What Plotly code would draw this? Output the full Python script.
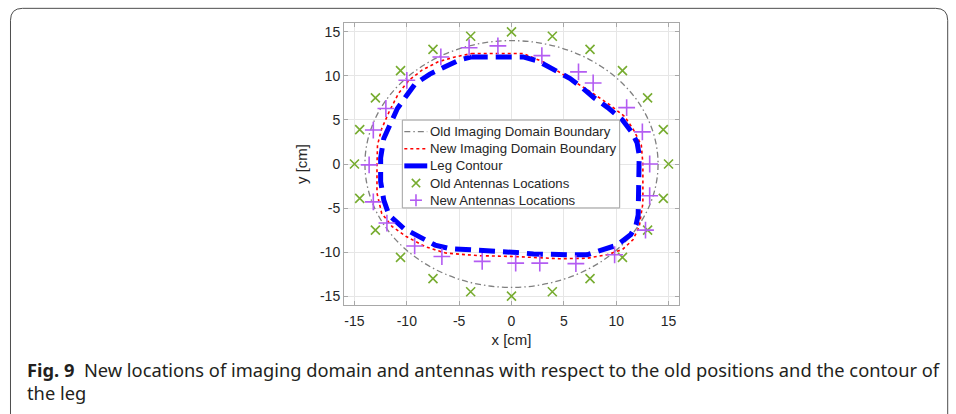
import plotly.graph_objects as go

# ---------------- data ----------------
old_boundary_radius = 14.0

new_boundary_x = [-3.8, 1.1, 3.0, 5.6, 7.8, 9.4, 10.8, 11.6, 12.4, 12.55, 12.55, 12.2, 11.6, 10.6, 9.1, 7.2,
                  4.6, 0.3, -3.2, -6.3, -8.2, -10.1, -11.4, -12.4, -12.85, -12.85, -12.8, -12.4, -11.7,
                  -10.8, -9.8, -8.55, -7.0, -5.4, -3.8]
new_boundary_y = [12.54, 12.54, 11.6, 9.7, 8.0, 6.7, 5.4, 4.0, 2.15, 0.0, -4.45, -7.1, -8.6, -9.7, -10.3, -10.7,
                  -10.75, -10.5, -10.4, -10.1, -9.4, -8.2, -7.1, -5.6, -3.3, -0.1, 2.15, 4.0, 5.9,
                  8.0, 9.5, 10.65, 11.6, 12.15, 12.54]

leg_x = [-3.8, 1.1, 2.5, 4.0, 5.6, 6.8, 7.9, 9.2, 10.6, 11.5, 12.0, 12.2, 12.2, 12.2, 12.1, 11.9, 11.4,
         10.1, 8.9, 7.2, 5.3, 4.3, 2.1, 0.5, -1.4, -2.9, -4.3, -5.9, -7.3, -9.2, -10.3, -11.7, -12.2,
         -12.5, -12.5, -12.2, -11.6, -10.9, -10.0, -9.2, -7.8, -6.3, -5.0, -3.8]
leg_y = [12.15, 12.15, 11.7, 10.8, 9.7, 8.6, 7.5, 6.4, 5.0, 3.6, 2.4, 1.0, -2.0, -4.3, -5.8, -6.9, -8.0,
         -9.2, -9.7, -10.3, -10.3, -10.3, -10.2, -10.05, -9.9, -9.8, -9.6, -9.6, -9.2, -8.0, -7.3, -5.8, -4.1,
         -2.0, 0.7, 2.9, 4.6, 6.3, 7.8, 9.1, 10.2, 11.0, 11.8, 12.15]

old_ant_x = [0, 3.9, 7.5, 10.6, 13, 14.5, 15, 14.5, 13, 10.6, 7.5, 3.9,
             0, -3.9, -7.5, -10.6, -13, -14.5, -15, -14.5, -13, -10.6, -7.5, -3.9]
old_ant_y = [15, 14.5, 13, 10.6, 7.5, 3.9, 0, -3.9, -7.5, -10.6, -13, -14.5,
             -15, -14.5, -13, -10.6, -7.5, -3.9, 0, 3.9, 7.5, 10.6, 13, 14.5]

new_ant_x = [-1.3, 2.9, 6.4, 7.8, 11.0, 12.5, 13.2, 13.2, 12.8, 9.85, 6.15, 2.7,
             0.4, -2.8, -6.65, -9.25, -11.9, -13.2, -13.6, -13.2, -12.0, -10.0, -6.75, -4.05]
new_ant_y = [13.4, 12.3, 10.45, 9.2, 6.4, 3.65, 0.0, -3.6, -7.5, -10.3, -11.3, -11.25,
             -11.25, -11.05, -10.5, -9.3, -6.7, -4.3, -0.1, 3.85, 6.3, 9.5, 12.15, 13.2]

tick_vals = [-15, -10, -5, 0, 5, 10, 15]
tick_text = ["-15", "-10", "-5", "0", "5", "10", "15"]

legend_names = ["Old Imaging Domain Boundary", "New Imaging Domain Boundary", "Leg Contour",
                "Old Antennas Locations", "New Antennas Locations"]
x_title = "x [cm]"
y_title = "y [cm]"
caption_bold = "Fig. 9"
caption_line1 = "New locations of imaging domain and antennas with respect to the old positions and the contour of"
caption_line2 = "the leg"

# ---------------- styles ----------------
GRAY = "#808080"
RED = "#ff0000"
BLUE = "#0000ff"
GREEN = "#77ac30"
PURPLE = "#b35cf2"
DASHDOT = "6px,3px,1.5px,3px"
TXT = "#262626"
SANS = "Liberation Sans, Arial, sans-serif"

# ---------------- layout geometry ----------------
W, H = 956, 414
L, R, T, B = 343.5, 276.5, 22.7, 108.7
PW, PH = W - L - R, H - T - B


def px(xp):
    return (xp - L) / PW


def py(yp):
    return (H - B - yp) / PH


fig = go.Figure()

fig.add_trace(go.Scatter(x=new_boundary_x, y=new_boundary_y, mode="lines", name=legend_names[1],
                         line=dict(color=RED, width=1.6, dash="dot")))
fig.add_trace(go.Scatter(x=leg_x, y=leg_y, mode="lines", name=legend_names[2],
                         line=dict(color=BLUE, width=5, dash="16px,8px")))
fig.add_trace(go.Scatter(x=old_ant_x, y=old_ant_y, mode="markers", name=legend_names[3],
                         marker=dict(symbol="x-thin-open", size=9, color=GREEN,
                                     line=dict(color=GREEN, width=1.6))))
fig.add_trace(go.Scatter(x=new_ant_x, y=new_ant_y, mode="markers", name=legend_names[4],
                         marker=dict(symbol="cross-thin-open", size=12, color=PURPLE,
                                     line=dict(color=PURPLE, width=1.6))))

# old imaging boundary circle in data coordinates
fig.add_shape(type="circle", xref="x", yref="y",
              x0=-old_boundary_radius, x1=old_boundary_radius,
              y0=-old_boundary_radius, y1=old_boundary_radius,
              line=dict(color=GRAY, width=1.3, dash=DASHDOT), layer="between")

# ---------------- legend box (MATLAB style, compact rows) ----------------
LEG_L, LEG_R, LEG_T, LEG_B = 402, 620, 120, 208
ROW0, ROW_DY = 131.5, 17.2
S0, S1, SC, TX = 404, 427, 415.7, 427.5

fig.add_shape(type="rect", xref="paper", yref="paper", x0=px(LEG_L), x1=px(LEG_R), y0=py(LEG_B), y1=py(LEG_T),
              fillcolor="white", line=dict(color="#a0a0a0", width=1))
rows = [ROW0 + ROW_DY * i for i in range(5)]
fig.add_shape(type="line", xref="paper", yref="paper", x0=px(S0), x1=px(S1), y0=py(rows[0]), y1=py(rows[0]),
              line=dict(color=GRAY, width=1.3, dash=DASHDOT))
fig.add_shape(type="line", xref="paper", yref="paper", x0=px(S0), x1=px(S1), y0=py(rows[1]), y1=py(rows[1]),
              line=dict(color=RED, width=1.6, dash="dot"))
fig.add_shape(type="line", xref="paper", yref="paper", x0=px(S0), x1=px(S1), y0=py(rows[2]), y1=py(rows[2]),
              line=dict(color=BLUE, width=5))
a = 4.2
for dx, dy in ((a, a), (a, -a)):
    fig.add_shape(type="line", xref="paper", yref="paper", x0=px(SC - dx), x1=px(SC + dx),
                  y0=py(rows[3] - dy), y1=py(rows[3] + dy), line=dict(color=GREEN, width=1.6))
c = 6
fig.add_shape(type="line", xref="paper", yref="paper", x0=px(SC - c), x1=px(SC + c),
              y0=py(rows[4]), y1=py(rows[4]), line=dict(color=PURPLE, width=1.6))
fig.add_shape(type="line", xref="paper", yref="paper", x0=px(SC), x1=px(SC),
              y0=py(rows[4] - c), y1=py(rows[4] + c), line=dict(color=PURPLE, width=1.6))
for name, yy in zip(legend_names, rows):
    fig.add_annotation(xref="paper", yref="paper", x=px(TX), y=py(yy), xanchor="left", yanchor="middle",
                       showarrow=False, text=name, font=dict(family=SANS, size=13.2, color=TXT))

# ---------------- rounded outer frame (open at the bottom) ----------------
x0, x1, y0, y1, r = px(9), px(949), py(8), py(440), 12
rx, ry = r / PW, r / PH
path = (f"M {x0},{y1} L {x0},{y0 - ry} Q {x0},{y0} {x0 + rx},{y0} "
        f"L {x1 - rx},{y0} Q {x1},{y0} {x1},{y0 - ry} L {x1},{y1}")
fig.add_shape(type="path", xref="paper", yref="paper", path=path,
              line=dict(color="#4d4d4d", width=1))

# ---------------- caption ----------------
CAP_FONT = dict(family="Noto Sans", size=18.3, color="#231f20")
fig.add_annotation(xref="paper", yref="paper", x=px(24), y=py(370), xanchor="left", yanchor="middle",
                   showarrow=False, align="left",
                   text=f"<b>{caption_bold}</b>\u00a0\u00a0{caption_line1}", font=CAP_FONT)
fig.add_annotation(xref="paper", yref="paper", x=px(24), y=py(393), xanchor="left", yanchor="middle",
                   showarrow=False, align="left", text=caption_line2, font=CAP_FONT)

axis_common = dict(range=[-16, 16], tickvals=tick_vals, ticktext=tick_text, showgrid=True,
                   gridcolor="#e6e6e6", gridwidth=1, zeroline=False, showline=True, mirror="ticks",
                   linecolor="#a8a8a8", linewidth=1, ticks="inside", ticklen=4, tickcolor="#a8a8a8",
                   tickfont=dict(family=SANS, size=14, color=TXT))

fig.update_xaxes(**axis_common, ticklabelstandoff=3,
                 title=dict(text=x_title, standoff=6, font=dict(family=SANS, size=15, color=TXT)))
fig.update_yaxes(**axis_common,
                 title=dict(text=y_title, standoff=8, font=dict(family=SANS, size=15, color=TXT)))

fig.update_layout(
    width=W, height=H,
    margin=dict(l=L, r=R, t=T, b=B, pad=0),
    paper_bgcolor="white", plot_bgcolor="white",
    showlegend=False,
)

fig.write_html("out.html")
